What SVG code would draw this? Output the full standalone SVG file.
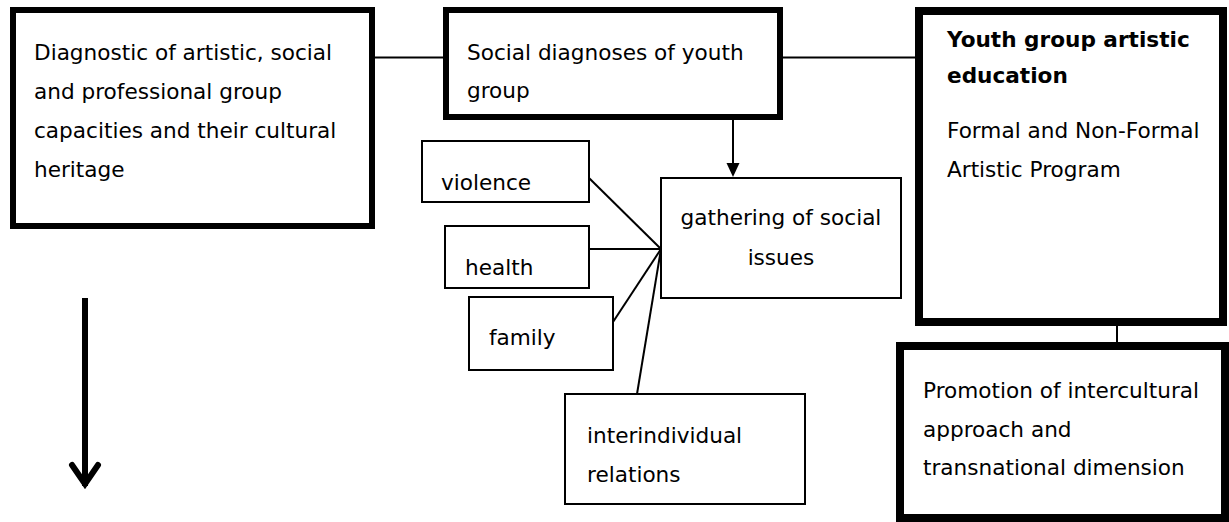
<svg xmlns="http://www.w3.org/2000/svg" width="1229" height="522" viewBox="0 0 1229 522">
<style>
text{font-family:"DejaVu Sans","Verdana",sans-serif;font-size:21.6px;fill:#000}
.b{font-weight:bold}
.thick{fill:#fff;stroke:#000;stroke-width:6}
.thicker{fill:#fff;stroke:#000;stroke-width:8}
.thin{fill:#fff;stroke:#000;stroke-width:2}
.ln{stroke:#000;stroke-width:2;fill:none}
</style>
<rect width="1229" height="522" fill="#fff"/>
<g id="connectors">
<line class="ln" x1="375" y1="57.5" x2="443" y2="57.5"/>
<line class="ln" x1="783" y1="57.5" x2="915" y2="57.5"/>
<line class="ln" x1="1117" y1="326" x2="1117" y2="342"/>
<line class="ln" x1="589" y1="178" x2="661" y2="249"/>
<line class="ln" x1="589" y1="249" x2="661" y2="249"/>
<line class="ln" x1="613" y1="322" x2="661" y2="249"/>
<line class="ln" x1="637" y1="394" x2="661" y2="249"/>
<line x1="733" y1="106" x2="733" y2="163" stroke="#000" stroke-width="2"/>
<path d="M726.5,163 L739.5,163 L733,177 z" fill="#000"/>
<line x1="85" y1="298" x2="85" y2="486" stroke="#000" stroke-width="6"/>
<polyline points="72,465 85,484 98,465" fill="none" stroke="#000" stroke-width="6" stroke-linejoin="miter" stroke-linecap="round"/>
</g>
<g id="node-diagnostic">
<rect class="thick" x="13" y="10" width="359" height="216"/>
<text x="34" y="60">Diagnostic of artistic, social</text>
<text x="34" y="99">and professional group</text>
<text x="34" y="138">capacities and their cultural</text>
<text x="34" y="177">heritage</text>
</g>
<g id="node-social">
<rect class="thick" x="446" y="10" width="334" height="107"/>
<text x="467" y="60">Social diagnoses of youth</text>
<text x="467" y="98">group</text>
</g>
<g id="node-youth">
<rect class="thicker" x="919" y="11" width="304" height="311"/>
<text class="b" x="947" y="47">Youth group artistic</text>
<text class="b" x="947" y="83">education</text>
<text x="947" y="138">Formal and Non-Formal</text>
<text x="947" y="177">Artistic Program</text>
</g>
<g id="node-promotion">
<rect class="thicker" x="900" y="346" width="325" height="172"/>
<text x="923" y="398">Promotion of intercultural</text>
<text x="923" y="437">approach and</text>
<text x="923" y="475">transnational dimension</text>
</g>
<g id="node-gathering">
<rect class="thin" x="661" y="178" width="240" height="120"/>
<text x="781" y="225" text-anchor="middle">gathering of social</text>
<text x="781" y="265" text-anchor="middle">issues</text>
</g>
<g id="node-violence">
<rect class="thin" x="422" y="141" width="167" height="61"/>
<text x="441" y="190">violence</text>
</g>
<g id="node-health">
<rect class="thin" x="445" y="226" width="144" height="62"/>
<text x="465" y="275">health</text>
</g>
<g id="node-family">
<rect class="thin" x="469" y="297" width="144" height="73"/>
<text x="489" y="345">family</text>
</g>
<g id="node-interindividual">
<rect class="thin" x="565" y="394" width="240" height="110"/>
<text x="587" y="443">interindividual</text>
<text x="587" y="482">relations</text>
</g>
</svg>
